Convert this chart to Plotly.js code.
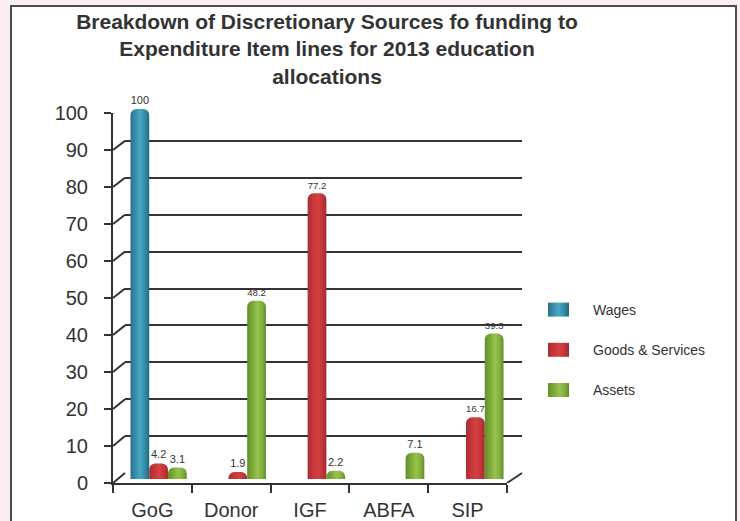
<!DOCTYPE html>
<html>
<head>
<meta charset="utf-8">
<script src="https://cdn.plot.ly/plotly-3.0.1.min.js"></script>
<style>
  html, body { margin: 0; padding: 0; background: #f9eef0; }
  #chart { width: 740px; height: 521px; }
</style>
</head>
<body>
<div id="chart"></div>
<script>
// Funding sources (categories) and the three expenditure items
const sources = ['GoG', 'Donor', 'IGF', 'ABFA', 'SIP'];
const seriesNames = ['Wages', 'Goods & Services', 'Assets'];
const wages = [100, null, null, null, null];
const goodsServices = [4.2, 1.9, 77.2, null, 16.7];
const assets = [3.1, 48.2, 2.2, 7.1, 39.3];
const yTicks = [0, 10, 20, 30, 40, 50, 60, 70, 80, 90, 100];

// ---- drawing geometry (pixels in a 740 x 521 page) ----
const W = 740, H = 521;
const px = p => p / W;
const py = p => 1 - p / H;
// front face: axis line, ticks and labels
const FRONT = { x0: 113, x1: 507, yBase: 483, yTop: 113 };
// back wall: grid lines
const BACK = { x0: 125, x1: 522, yBase: 473, yTop: 104 };
// middle depth: the cylinders
const MID = { x0: 119, x1: 515, yBase: 479, yTop: 109 };

const baseColors = ['#3591aa', '#c3363a', '#80ad3d'];
const gradStops = [
  [[0, '#2d6f87'], [0.3, '#3a93ac'], [0.5, '#45a9c1'], [0.75, '#3390a9'], [1, '#26677e']],
  [[0, '#a92c30'], [0.3, '#c7383c'], [0.55, '#d4413f'], [0.8, '#c0353a'], [1, '#a02a2e']],
  [[0, '#62902a'], [0.3, '#7faa3a'], [0.55, '#96c24d'], [0.8, '#82b03e'], [1, '#5f8c28']]
];

const seriesValues = [wages, goodsServices, assets];
const traces = seriesValues.map((vals, i) => ({
  type: 'bar',
  name: seriesNames[i],
  legendgroup: seriesNames[i],
  x: sources,
  y: vals,
  xaxis: 'x3',
  yaxis: 'y3',
  text: vals.map(v => (v == null ? '' : String(v))),
  textposition: 'outside',
  textfont: { size: 11, color: '#333333', family: 'Liberation Sans, Arial, sans-serif' },
  cliponaxis: false,
  marker: { color: baseColors[i], line: { width: 0 } },
  hoverinfo: 'skip'
}));

// empty trace that registers the back-wall subplot, so its grid lines are drawn
traces.push({
  type: 'scatter', mode: 'markers', x: [], y: [],
  xaxis: 'x2', yaxis: 'y2', showlegend: false, hoverinfo: 'skip'
});

// perspective connectors from each front tick to its back-wall grid line
const ppuFront = (FRONT.yBase - FRONT.yTop) / 100;
const ppuBack = (BACK.yBase - BACK.yTop) / 100;
const backInFrontUnits = v => (FRONT.yBase - (BACK.yBase - v * ppuBack)) / ppuFront;

const shapes = [
  {
    type: 'rect', xref: 'paper', yref: 'paper', layer: 'below',
    x0: px(11), x1: px(736), y0: -0.05, y1: py(6),
    fillcolor: '#ffffff', line: { color: '#4d4d4d', width: 2 }
  }
];
yTicks.forEach(v => {
  shapes.push({
    type: 'line', xref: 'paper', yref: 'y', layer: 'above',
    x0: px(FRONT.x0), y0: v, x1: px(BACK.x0), y1: backInFrontUnits(v),
    line: { color: '#333333', width: 2 }
  });
});
shapes.push({
  type: 'line', xref: 'paper', yref: 'y', layer: 'above',
  x0: px(FRONT.x1), y0: 0, x1: px(BACK.x1), y1: backInFrontUnits(0),
  line: { color: '#333333', width: 2 }
});

const axisFont = { size: 20, color: '#333333', family: 'Liberation Sans, Arial, sans-serif' };

const layout = {
  width: W,
  height: H,
  margin: { l: 0, r: 0, t: 0, b: 0 },
  paper_bgcolor: '#f9eef0',
  plot_bgcolor: 'rgba(0,0,0,0)',
  font: { family: 'Liberation Sans, Arial, sans-serif', color: '#333333' },
  barmode: 'group',
  bargap: 0.29,
  bargroupgap: 0,
  barcornerradius: 6,
  showlegend: true,
  title: {
    text: 'Breakdown of Discretionary Sources fo funding to<br>Expenditure Item lines for 2013 education<br>allocations',
    font: { size: 21, weight: 'bold', color: '#333333', family: 'Liberation Sans, Arial, sans-serif' },
    x: px(327), xanchor: 'center', xref: 'paper',
    y: py(29), yanchor: 'top', yref: 'paper'
  },
  // front axes: ticks, labels, axis lines
  xaxis: {
    domain: [px(FRONT.x0), px(FRONT.x1)], anchor: 'y',
    type: 'category', categoryorder: 'array', categoryarray: sources,
    range: [-0.5, 4.5],
    showline: true, linecolor: '#333333', linewidth: 2,
    ticks: 'outside', tickson: 'boundaries', ticklen: 8, tickwidth: 2, tickcolor: '#333333',
    tickfont: axisFont, ticklabelstandoff: 8,
    showgrid: false, zeroline: false, fixedrange: true
  },
  yaxis: {
    domain: [py(FRONT.yBase), py(FRONT.yTop)], anchor: 'x',
    range: [0, 100], tickmode: 'array', tickvals: yTicks,
    showline: true, linecolor: '#333333', linewidth: 2,
    ticks: 'outside', ticklen: 7, tickwidth: 2, tickcolor: '#333333',
    tickfont: axisFont, ticklabelstandoff: 12,
    showgrid: false, zeroline: false, fixedrange: true
  },
  // back wall: grid lines only
  xaxis2: {
    domain: [px(BACK.x0), px(BACK.x1)], anchor: 'y2',
    range: [-0.5, 4.5], showticklabels: false, ticks: '', showline: false,
    showgrid: false, zeroline: false, fixedrange: true
  },
  yaxis2: {
    domain: [py(BACK.yBase), py(BACK.yTop)], anchor: 'x2',
    range: [0, 100], tickmode: 'array', tickvals: yTicks,
    showticklabels: false, ticks: '', showline: false,
    showgrid: true, gridcolor: '#333333', gridwidth: 2, zeroline: false, fixedrange: true
  },
  // middle depth: cylinders
  xaxis3: {
    domain: [px(MID.x0), px(MID.x1)], anchor: 'y3',
    type: 'category', categoryorder: 'array', categoryarray: sources,
    range: [-0.5, 4.5], visible: false, fixedrange: true
  },
  yaxis3: {
    domain: [py(MID.yBase), py(MID.yTop)], anchor: 'x3',
    range: [0, 100], visible: false, fixedrange: true
  },
  legend: {
    x: px(524), xanchor: 'left', y: py(294), yanchor: 'top',
    font: { size: 14, color: '#333333', family: 'Liberation Sans, Arial, sans-serif' },
    bgcolor: 'rgba(0,0,0,0)', borderwidth: 0,
    traceorder: 'grouped', tracegroupgap: 19, itemwidth: 59
  },
  shapes: shapes
};

// cylinder shading: horizontal gradients applied to the drawn bar paths
function shadeCylinders(gd) {
  const ns = 'http://www.w3.org/2000/svg';
  const svg = gd.querySelector('svg.main-svg');
  let defs = svg.querySelector('defs');
  if (!defs) { defs = document.createElementNS(ns, 'defs'); svg.insertBefore(defs, svg.firstChild); }
  gradStops.forEach((stops, i) => {
    const g = document.createElementNS(ns, 'linearGradient');
    g.setAttribute('id', 'cyl' + i);
    g.setAttribute('x1', '0'); g.setAttribute('y1', '0');
    g.setAttribute('x2', '1'); g.setAttribute('y2', '0');
    stops.forEach(([o, c]) => {
      const s = document.createElementNS(ns, 'stop');
      s.setAttribute('offset', o);
      s.setAttribute('stop-color', c);
      g.appendChild(s);
    });
    defs.appendChild(g);
  });
  gd.querySelectorAll('.barlayer .trace.bars').forEach((t, i) => {
    t.querySelectorAll('path').forEach(p => { p.style.fill = 'url(#cyl' + i + ')'; });
  });
  gd.querySelectorAll('.legend .traces').forEach((t, i) => {
    t.querySelectorAll('.legendpoints path').forEach(p => {
      p.setAttribute('d', 'M10.5,7H-10.5V-7H10.5Z');
      p.style.fill = 'url(#cyl' + i + ')';
      p.style.stroke = 'none';
    });
  });
}

const gd = document.getElementById('chart');
Plotly.newPlot(gd, traces, layout, { displayModeBar: false, staticPlot: true })
  .then(shadeCylinders);
</script>
</body>
</html>
